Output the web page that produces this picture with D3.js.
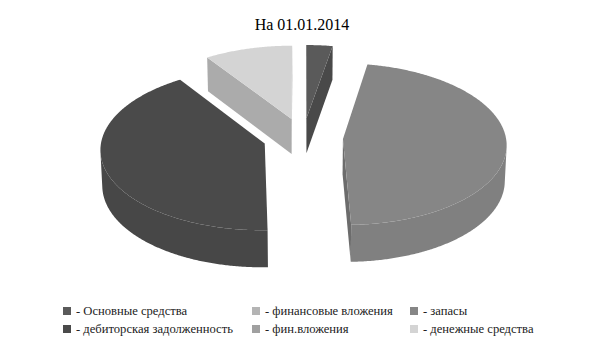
<!DOCTYPE html>
<html>
<head>
<meta charset="utf-8">
<script src="https://cdn.jsdelivr.net/npm/d3@7"></script>
<style>
  body { margin: 0; background: #fff; }
  svg { display: block; font-family: "Liberation Serif", "DejaVu Serif", serif; }
</style>
</head>
<body>
<svg width="605" height="340"></svg>
<script>
// values (% of total), clockwise from 12 o'clock
var title = "На 01.01.2014";
var categories = ["Основные средства", "финансовые вложения", "запасы",
                  "дебиторская задолженность", "фин.вложения", "денежные средства"];
var values = [2.8, 0, 46.7, 41.1, 0, 9.4];
var greys = ["#5a5a5a", "#b4b4b4", "#868686", "#4a4a4a", "#a0a0a0", "#d4d4d4"];

var svg = d3.select("svg");

var color = d3.scaleOrdinal().domain(categories).range(greys);

// tilted pie with a bit of perspective, all slices pulled out
var pie3d = {
	cx: 303, cy: 137.5,
	r: 163, depth: 41, explode: 40,
	tilt: 29.5 * Math.PI / 180,
	dist: 2200
};
var sinT = Math.sin(pie3d.tilt), cosT = Math.cos(pie3d.tilt);
var camZ = pie3d.dist * cosT;

/** world point [x, y(up), z(toward viewer)] -> screen [x, y] **/
function project(p){
	var yv = p[1] * cosT - p[2] * sinT,
		zv = p[1] * sinT + p[2] * cosT,
		s = pie3d.dist / (pie3d.dist - zv);
	return [pie3d.cx + p[0] * s, pie3d.cy - yv * s];
}

var line = d3.line();
function face(points){
	return line(points.map(project)) + "Z";
}

var arcs = d3.pie().sort(null).value((d) => d)(values)
	.map((a, i) => Object.assign(a, { name: categories[i] }))
	.filter((a) => a.value > 0);

arcs.forEach(function(a){
	var mid = (a.startAngle + a.endAngle) / 2;
	a.ox = pie3d.explode * Math.sin(mid);
	a.oz = -pie3d.explode * Math.cos(mid);
});

function rim(a, t, y){
	return [a.ox + pie3d.r * Math.sin(t), y, a.oz - pie3d.r * Math.cos(t)];
}

// far slices first
arcs.sort((a, b) => a.oz - b.oz);

var step = Math.PI / 360;
var h = -pie3d.depth;

var g = svg.append("g").attr("class", "pie");

arcs.forEach(function(a){
	var c = color(a.name);
	var ts = d3.range(a.startAngle, a.endAngle, step).concat([a.endAngle]);
	var apexTop = [a.ox, 0, a.oz], apexBot = [a.ox, h, a.oz];
	var slice = g.append("g");

	// cut face at the start angle
	var a0 = a.startAngle;
	if(-Math.cos(a0) * (0 - a.ox) - Math.sin(a0) * (camZ - a.oz) > 0){
		slice.append("path")
			.attr("d", face([apexTop, rim(a, a0, 0), rim(a, a0, h), apexBot]))
			.attr("fill", d3.color(c).darker(0.6));
	}
	// cut face at the end angle
	var a1 = a.endAngle;
	if(Math.cos(a1) * (0 - a.ox) + Math.sin(a1) * (camZ - a.oz) > 0){
		slice.append("path")
			.attr("d", face([apexTop, rim(a, a1, 0), rim(a, a1, h), apexBot]))
			.attr("fill", d3.color(c).darker(0.6));
	}

	// outer side, only the part that faces the camera
	var front = ts.filter((t) => -pie3d.r - a.ox * Math.sin(t) - (camZ - a.oz) * Math.cos(t) > 0);
	if(front.length > 1){
		var band = front.map((t) => rim(a, t, 0))
			.concat(front.slice().reverse().map((t) => rim(a, t, h)));
		slice.append("path")
			.attr("d", face(band))
			.attr("fill", d3.color(c).darker(0.12));
	}

	// top face
	slice.append("path")
		.attr("d", face([apexTop].concat(ts.map((t) => rim(a, t, 0)))))
		.attr("fill", c);
});

// title
svg.append("text")
	.attr("x", 302)
	.attr("y", 30)
	.attr("text-anchor", "middle")
	.style("font-size", "16px")
	.text(title);

// legend, 3 columns x 2 rows
var legendX = [63, 252, 410], legendY = [307, 325];
var items = svg.append("g").attr("class", "legend")
	.selectAll("g")
	.data(categories)
	.enter()
	.append("g")
		.attr("transform", (d, i) => "translate(" + legendX[i % 3] + "," + legendY[Math.floor(i / 3)] + ")");

items.append("rect")
	.attr("width", 8)
	.attr("height", 8)
	.attr("fill", (d) => color(d));

items.append("text")
	.attr("x", 13)
	.attr("y", 8)
	.style("font-size", "12.6px")
	.attr("fill", "#222")
	.text((d) => "- " + d);
</script>
</body>
</html>
